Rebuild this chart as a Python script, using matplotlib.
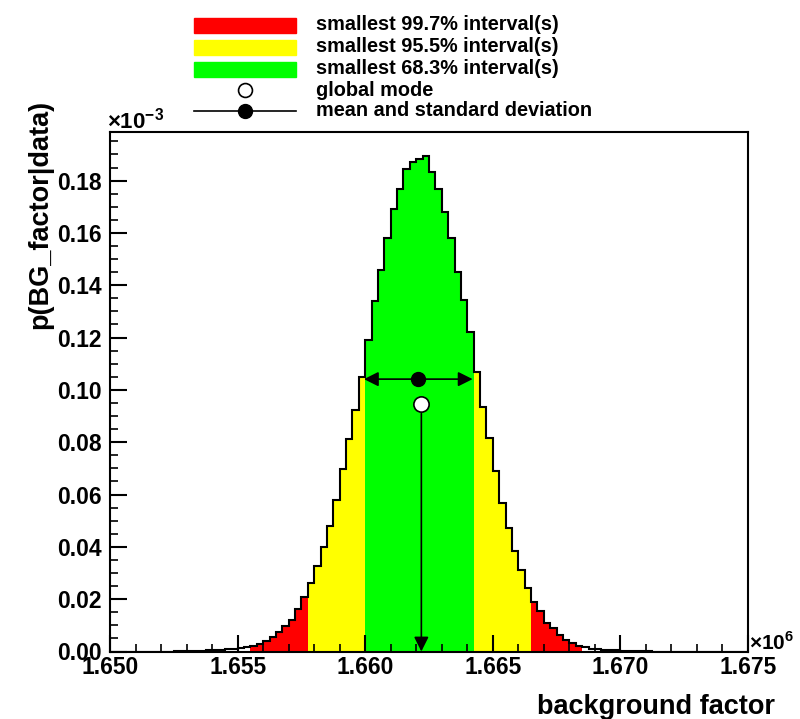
import numpy as np
import matplotlib
matplotlib.use("Agg")
import matplotlib.pyplot as plt
from matplotlib.patches import Rectangle
from matplotlib.lines import Line2D

plt.rcParams['font.family'] = ['Liberation Sans', 'DejaVu Sans']
plt.rcParams['font.weight'] = 'bold'
plt.rcParams['mathtext.fontset'] = 'custom'
plt.rcParams['mathtext.rm'] = 'Liberation Sans:bold'
plt.rcParams['mathtext.bf'] = 'Liberation Sans:bold'

# ---------------- data ----------------
x_min, x_max = 1.650e6, 1.675e6
bin_width = 250.0
# posterior density per bin (units of 1e-3), 100 bins from 1.650e6 to 1.675e6
density = [
    0.0000, 0.0000, 0.0000, 0.0000, 0.0000, 0.0000, 0.0000, 0.0000, 0.0000, 0.0000,
    0.0001, 0.0001, 0.0002, 0.0002, 0.0003, 0.0004, 0.0005, 0.0007, 0.0008, 0.0010,
    0.0013, 0.0017, 0.0022, 0.0029, 0.0040, 0.0054, 0.0074, 0.0099, 0.0122, 0.0161,
    0.0207, 0.0260, 0.0326, 0.0399, 0.0479, 0.0579, 0.0696, 0.0811, 0.0923, 0.1051,
    0.1189, 0.1339, 0.1457, 0.1579, 0.1690, 0.1768, 0.1846, 0.1872, 0.1883, 0.1893,
    0.1834, 0.1766, 0.1681, 0.1579, 0.1451, 0.1342, 0.1220, 0.1070, 0.0936, 0.0816,
    0.0691, 0.0566, 0.0471, 0.0385, 0.0311, 0.0244, 0.0189, 0.0155, 0.0109, 0.0088,
    0.0062, 0.0045, 0.0033, 0.0022, 0.0016, 0.0011, 0.0008, 0.0006, 0.0005, 0.0004,
    0.0003, 0.0002, 0.0002, 0.0001, 0.0001, 0.0000, 0.0000, 0.0000, 0.0000, 0.0000,
    0.0000, 0.0000, 0.0000, 0.0000, 0.0000, 0.0000, 0.0000, 0.0000, 0.0000, 0.0000,
]
interval_683 = (1.66000e6, 1.66425e6)
interval_955 = (1.65775e6, 1.66650e6)
interval_997 = (1.65550e6, 1.66850e6)
mean_value = 1.66208e6
std_value = 2130.0
mode_value = 1.66220e6

x_tick_values = [1.650e6, 1.655e6, 1.660e6, 1.665e6, 1.670e6, 1.675e6]
x_tick_labels = ["1.650", "1.655", "1.660", "1.665", "1.670", "1.675"]
y_tick_values = [0.00, 0.02, 0.04, 0.06, 0.08, 0.10, 0.12, 0.14, 0.16, 0.18]
y_tick_labels = ["0.00", "0.02", "0.04", "0.06", "0.08", "0.10", "0.12", "0.14", "0.16", "0.18"]

legend_labels = ["smallest 99.7% interval(s)", "smallest 95.5% interval(s)",
                 "smallest 68.3% interval(s)", "global mode", "mean and standard deviation"]
c_red, c_yellow, c_green = "#ff0000", "#ffff00", "#00ff00"

# ---------------- figure ----------------
W, H = 800, 719
fig = plt.figure(figsize=(W / 100, H / 100), dpi=100)

def fx(px):
    return px / W

def fy(py):
    return 1 - py / H

ax_l, ax_r, ax_t, ax_b = 110, 748, 131.5, 651.5
ax = fig.add_axes([fx(ax_l), fy(ax_b), (ax_r - ax_l) / W, (ax_b - ax_t) / H])

dens = np.array(density)
edges = x_min + bin_width * np.arange(len(dens) + 1)
centers = 0.5 * (edges[:-1] + edges[1:])
ymax = dens.max() * 1.05

colors = []
for c in centers:
    if interval_683[0] <= c <= interval_683[1]:
        colors.append(c_green)
    elif interval_955[0] <= c <= interval_955[1]:
        colors.append(c_yellow)
    elif interval_997[0] <= c <= interval_997[1]:
        colors.append(c_red)
    else:
        colors.append("none")

ax.bar(edges[:-1], dens, width=bin_width, align='edge', color=colors,
       edgecolor='none', linewidth=0, zorder=1)
ax.stairs(dens, edges, color='black', linewidth=1.5, zorder=3)

# mean and standard deviation
y_mean = 0.55 * dens.max()
y_mode = 0.50 * dens.max()
for end in (mean_value - std_value, mean_value + std_value):
    ax.annotate('', xy=(end, y_mean), xytext=(mean_value, y_mean),
                arrowprops=dict(arrowstyle='-|>', color='black', lw=1.2,
                                mutation_scale=22, shrinkA=0, shrinkB=0),
                zorder=5)
ax.plot([mean_value], [y_mean], 'o', color='black', markersize=10, zorder=6)

# global mode
ax.annotate('', xy=(mode_value, 0), xytext=(mode_value, y_mode),
            arrowprops=dict(arrowstyle='-|>', color='black', lw=1.2,
                            mutation_scale=22, shrinkA=7, shrinkB=0),
            zorder=5)
ax.plot([mode_value], [y_mode], 'o', markerfacecolor='white',
        markeredgecolor='black', markersize=11, markeredgewidth=1.2, zorder=6)

ax.set_xlim(x_min, x_max)
ax.set_ylim(0, ymax)
ax.set_xticks(x_tick_values)
ax.set_xticklabels(x_tick_labels)
ax.set_yticks(y_tick_values)
ax.set_yticklabels(y_tick_labels)
ax.set_xticks(np.arange(x_min, x_max + 1, 1000), minor=True)
ax.set_yticks(np.arange(0, ymax, 0.005), minor=True)
ax.tick_params(which='major', direction='in', length=12, width=1.5,
               labelsize=16.5, top=False, right=False)
ax.tick_params(which='minor', direction='in', length=6, width=1.2,
               top=False, right=False)
ax.tick_params(axis='x', pad=3)
ax.tick_params(axis='y', pad=6)
for lab in ax.get_xticklabels() + ax.get_yticklabels():
    lab.set_fontweight('bold')
for s in ax.spines.values():
    s.set_linewidth(1.5)

# exponents
fig.text(fx(107), fy(128), r'$\times$10$^{-3}$', fontsize=16, ha='left', va='baseline')
fig.text(fx(749), fy(650), r'$\times$10$^{6}$', fontsize=15, ha='left', va='baseline')

# axis titles
fig.text(fx(40), fy(100), 'p(BG_factor|data)', rotation=90, fontsize=19.5,
         fontweight='bold', ha='center', va='top')
fig.text(fx(775), fy(707), 'background factor', fontsize=19.5,
         fontweight='bold', ha='right', va='center')

# legend
rows = [25, 47, 69, 90, 111]
for col, r in zip([c_red, c_yellow, c_green], rows[:3]):
    fig.patches.append(Rectangle((fx(194), fy(r + 7.5)), 102 / W, 15 / H,
                                 transform=fig.transFigure, color=col))
fig.lines.append(Line2D([fx(245)], [fy(rows[3])], marker='o', markerfacecolor='white',
                        markeredgecolor='black', markersize=10, markeredgewidth=1.2,
                        transform=fig.transFigure))
fig.lines.append(Line2D([fx(194), fx(296)], [fy(rows[4]), fy(rows[4])], color='black',
                        linewidth=1.2, transform=fig.transFigure))
fig.lines.append(Line2D([fx(245)], [fy(rows[4])], marker='o', color='black',
                        markersize=10, transform=fig.transFigure))
for lab, r in zip(legend_labels, rows):
    fig.text(fx(316), fy(r), lab, fontsize=14.3, fontweight='bold',
             ha='left', va='center')

fig.savefig("out.png", dpi=100)
